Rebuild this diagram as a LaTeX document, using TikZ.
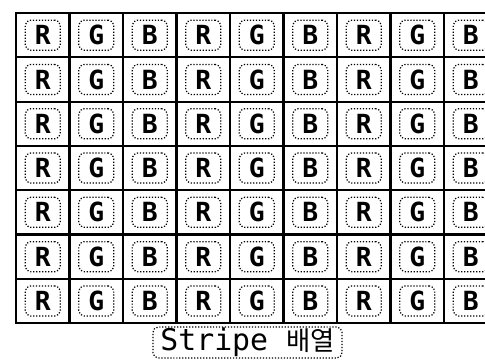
\documentclass[tikz,border=0pt]{standalone}
\usepackage{fontspec}
\setsansfont{DejaVu Sans Mono}
\newfontfamily\krfont{Noto Sans CJK KR}
\usetikzlibrary{positioning}

\begin{document}
\begin{tikzpicture}[x=0.02cm,y=-0.02cm,
    every node/.style={font=\sffamily\bfseries\fontsize{15}{15}\selectfont},
    cell/.style={draw,line width=1.2pt,minimum width=1.07cm,minimum height=0.886cm,inner sep=0pt},
    dotbox/.style={draw,densely dotted,line width=0.7pt,rounded corners=3pt,minimum width=0.7cm,minimum height=0.6cm,inner sep=0pt}]
    \useasboundingbox (0,0) rectangle (485,360);
    \clip (0,0) rectangle (485,360);
    \foreach \r in {1,...,7}{
      \foreach \c/\col in {1/R,2/G,3/B,4/R,5/G,6/B,7/R,8/G,9/B}{
        \node[cell] (cell-\r-\c) at ({16+53.5*(\c-0.5)},{13+44.3*(\r-0.5)}) {};
        \node[dotbox] (px-\r-\c) at (cell-\r-\c) {\col};
      }
    }
    \node[draw,densely dotted,line width=0.7pt,rounded corners=3pt,minimum width=3.78cm,minimum height=0.62cm,
      inner sep=0pt,font=\sffamily\fontsize{17}{17}\selectfont] (caption) at (247.5,342.5) {Stripe {\krfont\fontsize{15}{15}\selectfont 배열}};
  \end{tikzpicture}
\end{document}
